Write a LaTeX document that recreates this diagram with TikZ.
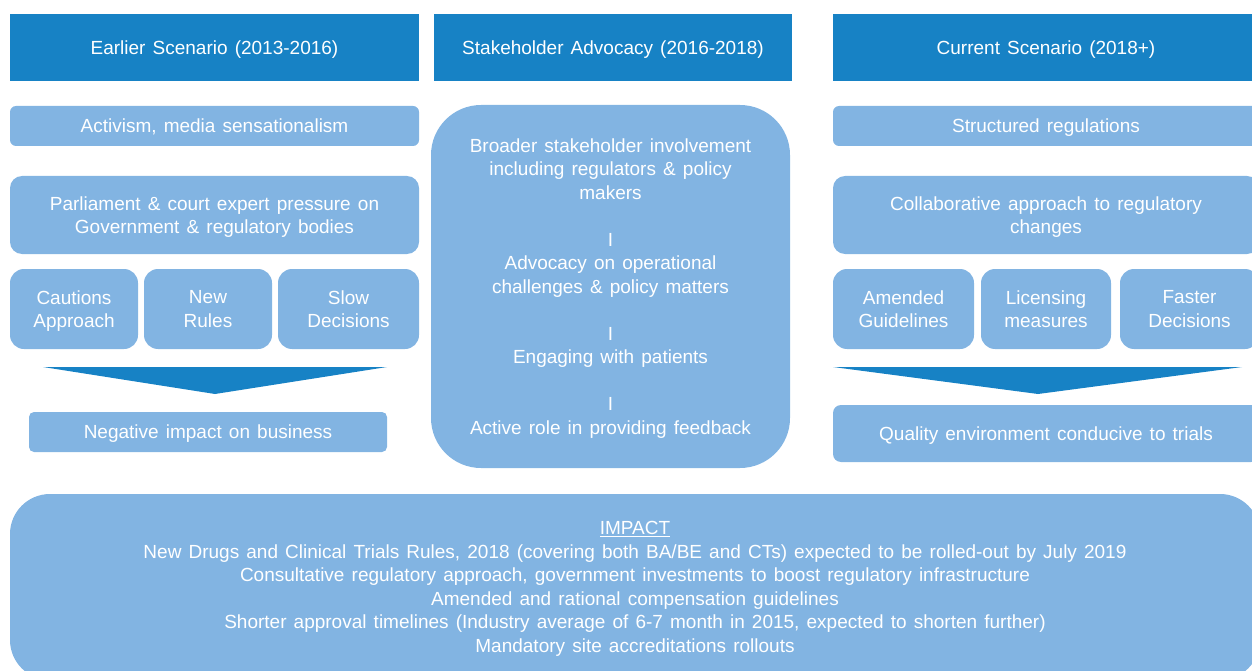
\documentclass[tikz,border=0pt]{standalone}
\usepackage{fontspec}
\setmainfont[WordSpace=1.35]{Liberation Sans}
\definecolor{darkblue}{HTML}{1782C5}
\definecolor{lightblue}{HTML}{82B4E2}
\begin{document}
\begin{tikzpicture}[x=1pt,y=-1pt,
  txt/.style={text=white, align=center, inner sep=0pt, outer sep=0pt, text depth=0pt,
    font=\fontsize{19}{23.5}\selectfont},
  header/.style={txt, fill=darkblue, draw=none},
  lbox/.style={txt, fill=lightblue, draw=none},
  chevron/.style={fill=darkblue, draw=none}]
\useasboundingbox (0,0) rectangle (1252,671);

% headers
\node[header, minimum width=409pt, minimum height=67pt] (h1) at (214.5,47.5) {Earlier Scenario (2013-2016)};
\node[header, minimum width=358pt, minimum height=67pt] (h2) at (613,47.5) {Stakeholder Advocacy (2016-2018)};
\node[header, minimum width=426pt, minimum height=67pt] (h3) at (1046,47.5) {Current Scenario (2018+)};

% left column
\node[lbox, rounded corners=6pt, minimum width=409pt, minimum height=40pt] (l1) at (214.5,126) {Activism, media sensationalism};
\node[lbox, rounded corners=12pt, minimum width=409pt, minimum height=78pt] (l2) at (214.5,215) {Parliament \& court expert pressure on\\Government \& regulatory bodies};
\node[lbox, rounded corners=14pt, minimum width=128pt, minimum height=80pt] (l3) at (74,309) {Cautions\\Approach};
\node[lbox, rounded corners=14pt, minimum width=128pt, minimum height=80pt] (l4) at (208,309) {New\\Rules};
\node[lbox, rounded corners=14pt, minimum width=141pt, minimum height=80pt] (l5) at (348.5,309) {Slow\\Decisions};
\coordinate (lt1) at (43,367);
\coordinate (lt2) at (387,367);
\coordinate (lt3) at (215,394);
\fill[chevron] (lt1) -- (lt2) -- (lt3) -- cycle;
\node[lbox, rounded corners=5pt, minimum width=358pt, minimum height=40pt] (l6) at (208,432) {Negative impact on business};

% center column
\node[lbox, rounded corners=50pt, minimum width=359pt, minimum height=363pt] (c1) at (610.5,286.5)
 {Broader stakeholder involvement\\including regulators \& policy\\makers\\[23.5pt]
  I\\Advocacy on operational\\challenges \& policy matters\\[23.5pt]
  I\\Engaging with patients\\[23.5pt]
  I\\Active role in providing feedback};

% right column
\node[lbox, rounded corners=6pt, minimum width=426pt, minimum height=40pt] (r1) at (1046,126) {Structured regulations};
\node[lbox, rounded corners=12pt, minimum width=426pt, minimum height=78pt] (r2) at (1046,215) {Collaborative approach to regulatory\\changes};
\node[lbox, rounded corners=14pt, minimum width=141pt, minimum height=80pt] (r3) at (903.5,309) {Amended\\Guidelines};
\node[lbox, rounded corners=14pt, minimum width=130pt, minimum height=80pt] (r4) at (1046,309) {Licensing\\measures};
\node[lbox, rounded corners=14pt, minimum width=139pt, minimum height=80pt] (r5) at (1189.5,309) {Faster\\Decisions};
\coordinate (rt1) at (833,367);
\coordinate (rt2) at (1242,367);
\coordinate (rt3) at (1038,394);
\fill[chevron] (rt1) -- (rt2) -- (rt3) -- cycle;
\node[lbox, rounded corners=8pt, minimum width=426pt, minimum height=57pt] (r6) at (1046,433.5) {Quality environment conducive to trials};

% bottom
\node[lbox, rounded corners=40pt, minimum width=1250pt, minimum height=186pt] (b1) at (635,587)
 {\underline{IMPACT}\\
  New Drugs and Clinical Trials Rules, 2018 (covering both BA/BE and CTs) expected to be rolled-out by July 2019\\
  Consultative regulatory approach, government investments to boost regulatory infrastructure\\
  Amended and rational compensation guidelines\\
  Shorter approval timelines (Industry average of 6-7 month in 2015, expected to shorten further)\\
  Mandatory site accreditations rollouts};
\end{tikzpicture}
\end{document}
